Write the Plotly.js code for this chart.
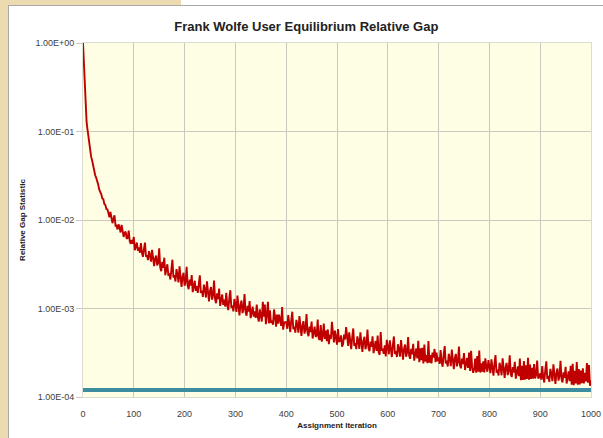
<!DOCTYPE html>
<html>
<head>
<meta charset="utf-8">
<script src="https://cdn.plot.ly/plotly-3.0.1.min.js"></script>
<style>
  html, body { margin: 0; padding: 0; background: #ffffff; overflow: hidden; }
  #frame { position: absolute; left: 0; top: 0; width: 603px; height: 438px; }
  .beige { position: absolute; background: #ecdbb0; }
  .bline { position: absolute; background: #a9a9a9; }
  #chart { position: absolute; left: 0; top: 0; width: 603px; height: 438px; }
</style>
</head>
<body>
<div id="frame">
  <div class="beige" style="left:0;top:0;width:8px;height:438px;"></div>
  <div class="beige" style="left:0;top:0;width:181px;height:5px;"></div>
  <div class="bline" style="left:8px;top:5px;width:595px;height:1px;"></div>
  <div class="bline" style="left:8px;top:5px;width:1px;height:433px;"></div>
</div>
<div id="chart"></div>
<script>
// Assignment iterations
const iterations = [
  0,1,2,3,4,5,6,7,8,10,12,14,16,18,20,22,24,26,28,30,32,34,36,38,40,42,44,46,48,
  50,52,54,56,58,60,62,64,66,68,70,72,74,76,78,80,82,84,86,88,90,92,94,96,98,
  100,102,104,106,108,110,112,114,116,118,120,122,124,126,128,130,132,134,136,138,140,142,144,146,148,
  150,152,154,156,158,160,162,164,166,168,170,172,174,176,178,180,182,184,186,188,190,192,194,196,198,
  200,202,204,206,208,210,212,214,216,218,220,222,224,226,228,230,232,234,236,238,240,242,244,246,248,
  250,252,254,256,258,260,262,264,266,268,270,272,274,276,278,280,282,284,286,288,290,292,294,296,298,
  300,302,304,306,308,310,312,314,316,318,320,322,324,326,328,330,332,334,336,338,340,342,344,346,348,
  350,352,354,356,358,360,362,364,366,368,370,372,374,376,378,380,382,384,386,388,390,392,394,396,398,
  400,402,404,406,408,410,412,414,416,418,420,422,424,426,428,430,432,434,436,438,440,442,444,446,448,
  450,452,454,456,458,460,462,464,466,468,470,472,474,476,478,480,482,484,486,488,490,492,494,496,498,
  500,502,504,506,508,510,512,514,516,518,520,522,524,526,528,530,532,534,536,538,540,542,544,546,548,
  550,552,554,556,558,560,562,564,566,568,570,572,574,576,578,580,582,584,586,588,590,592,594,596,598,
  600,602,604,606,608,610,612,614,616,618,620,622,624,626,628,630,632,634,636,638,640,642,644,646,648,
  650,652,654,656,658,660,662,664,666,668,670,672,674,676,678,680,682,684,686,688,690,692,694,696,698,
  700,702,704,706,708,710,712,714,716,718,720,722,724,726,728,730,732,734,736,738,740,742,744,746,748,
  750,752,754,756,758,760,762,764,766,768,770,772,774,776,778,780,782,784,786,788,790,792,794,796,798,
  800,802,804,806,808,810,812,814,816,818,820,822,824,826,828,830,832,834,836,838,840,842,844,846,848,
  850,852,854,856,858,860,862,864,866,868,870,872,874,876,878,880,882,884,886,888,890,892,894,896,898,
  900,902,904,906,908,910,912,914,916,918,920,922,924,926,928,930,932,934,936,938,940,942,944,946,948,
  950,952,954,956,958,960,962,964,966,968,970,972,974,976,978,980,982,984,986,988,990,992,994,996,998,
  1000
];
// Relative gap statistic
const relativeGap = [
  1.0,0.72,0.48,0.33,0.25,0.19,0.155,0.13,0.115,0.092,0.074,0.063,0.052,0.047,0.040,0.037,0.032,0.030,0.026,0.025,0.022,0.021,0.0195,0.0175,0.0172,0.0152,0.0148,0.0133,0.0132,
  120e-4,107e-4,123e-4,101e-4,92e-4, 103e-4,113e-4,86.5e-4,86.8e-4,78.3e-4, 89.2e-4,81.6e-4,72.3e-4,87.9e-4,71.2e-4, 64.4e-4,71.8e-4,74.1e-4,61.4e-4,63.0e-4, 76.0e-4,57.4e-4,53.8e-4,59.5e-4,53.9e-4,
  64.3e-4,45.6e-4,51.5e-4,55.6e-4,45.0e-4, 49e-4,42.7e-4,54.8e-4,42.6e-4,38.3e-4, 47.3e-4,55.5e-4,38.6e-4,39.9e-4,35.3e-4, 44.4e-4,39.8e-4,33.8e-4,46.1e-4,34.6e-4, 30.2e-4,36.8e-4,39.5e-4,30.6e-4,32.9e-4,
  47.9e-4,29.2e-4,26.4e-4,33.7e-4,28.8e-4, 37.5e-4,23.8e-4,28.5e-4,31.6e-4,24.0e-4, 24.3e-4,21.3e-4,28.8e-4,35.6e-4,22.4e-4, 23.8e-4,20.2e-4,27.8e-4,24.3e-4,19.7e-4, 29.9e-4,20.8e-4,17.5e-4,22.9e-4,25.3e-4,
  18.1e-4,20.1e-4,29.6e-4,18.2e-4,16.5e-4, 21.2e-4,18.2e-4,23.9e-4,15.3e-4,18.4e-4, 20.6e-4,15.8e-4,17.9e-4,15.0e-4,21.2e-4, 23.7e-4,15.0e-4,15.9e-4,13.5e-4,18.6e-4, 16.3e-4,13.3e-4,20.3e-4,14.2e-4,12.0e-4,
  15.8e-4,17.5e-4,12.6e-4,14.1e-4,20.7e-4, 12.7e-4,11.5e-4,14.8e-4,12.8e-4,16.8e-4, 10.7e-4,12.9e-4,14.4e-4,11.0e-4,12.6e-4, 10.5e-4,15.0e-4,10.9e-4,9.6e-4,13.0e-4, 16.1e-4,10.2e-4,10.8e-4,9.27e-4,12.8e-4,
  11.2e-4,9.16e-4,14.0e-4,9.84e-4,8.37e-4, 11.0e-4,12.3e-4,8.86e-4,9.89e-4,14.6e-4, 9.09e-4,8.30e-4,10.7e-4,9.21e-4,12.1e-4, 7.78e-4,9.41e-4,10.5e-4,8.09e-4,9.3e-4, 7.82e-4,11.1e-4,8.1e-4,7.12e-4,9.79e-4,
  7.74e-4,7.13e-4,11.9e-4,8.08e-4,11.1e-4, 6.64e-4,8.47e-4,11.9e-4,6.80e-4,9.56e-4, 6.88e-4,7.27e-4,6.56e-4,9.75e-4,8.19e-4, 6.24e-4,8.51e-4,6.75e-4,8.51e-4,6.96e-4, 6.35e-4,10.4e-4,5.76e-4,6.89e-4,7.03e-4,
  7.0e-4,5.90e-4,8.41e-4,6.15e-4,5.42e-4, 7.39e-4,9.20e-4,5.83e-4,6.23e-4,5.34e-4, 7.43e-4,6.54e-4,5.34e-4,8.19e-4,5.75e-4, 4.90e-4,6.46e-4,7.20e-4,5.20e-4,5.82e-4, 8.63e-4,5.31e-4,4.86e-4,6.26e-4,5.41e-4,
  7.13e-4,4.58e-4,5.55e-4,6.24e-4,4.80e-4, 4.93e-4,7.51e-4,4.59e-4,4.40e-4,6.49e-4, 4.22e-4,4.98e-4,6.76e-4,4.54e-4,5.63e-4, 4.27e-4,5.80e-4,3.95e-4,5.06e-4,4.53e-4, 7.08e-4,5.08e-4,4.14e-4,5.63e-4,4.60e-4,
  3.90e-4,5.84e-4,4.19e-4,4.34e-4,4.97e-4, 3.70e-4,3.96e-4,5.06e-4,4.46e-4,6.17e-4, 4.45e-4,3.77e-4,5.37e-4,3.94e-4,3.48e-4, 4.76e-4,5.95e-4,3.77e-4,4.05e-4,3.47e-4, 4.84e-4,4.27e-4,3.50e-4,5.38e-4,3.79e-4,
  3.24e-4,4.28e-4,4.79e-4,3.47e-4,3.90e-4, 5.80e-4,3.58e-4,3.29e-4,4.24e-4,3.68e-4, 4.86e-4,3.13e-4,3.81e-4,4.29e-4,3.31e-4, 4.93e-4,3.20e-4,3.00e-4,5.41e-4,3.34e-4, 3.51e-4,3.08e-4,3.83e-4,2.88e-4,4.42e-4,
  3.60e-4,3.04e-4,4.36e-4,3.20e-4,2.83e-4, 3.87e-4,4.83e-4,3.06e-4,3.30e-4,2.83e-4, 3.94e-4,3.48e-4,2.86e-4,4.39e-4,3.10e-4, 2.65e-4,3.51e-4,3.92e-4,2.85e-4,3.19e-4, 4.76e-4,2.93e-4,2.70e-4,3.49e-4,3.03e-4,
  4.0e-4,2.58e-4,3.14e-4,3.53e-4,2.73e-4, 4.31e-4,2.48e-4,3.54e-4,2.61e-4,3.60e-4, 2.39e-4,3.91e-4,2.52e-4,2.98e-4,2.41e-4, 4.28e-4,2.44e-4,2.98e-4,2.39e-4,3.18e-4, 2.79e-4,3.49e-4,2.48e-4,3.17e-4,2.54e-4,
  2.80e-4,2.37e-4,3.39e-4,2.48e-4,2.20e-4, 3.01e-4,3.77e-4,2.39e-4,2.57e-4,2.21e-4, 3.08e-4,2.72e-4,2.23e-4,3.43e-4,2.42e-4, 2.07e-4,2.74e-4,3.07e-4,2.22e-4,2.49e-4, 3.71e-4,2.30e-4,2.11e-4,2.72e-4,2.36e-4,
  3.13e-4,2.02e-4,2.46e-4,2.76e-4,2.13e-4, 3.17e-4,1.97e-4,3.33e-4,2.16e-4,1.88e-4, 2.04e-4,2.71e-4,1.88e-4,2.91e-4,1.93e-4, 3.35e-4,1.89e-4,2.40e-4,1.93e-4,2.53e-4, 1.89e-4,2.73e-4,2.16e-4,1.93e-4,2.61e-4,
  2.20e-4,1.86e-4,2.66e-4,1.96e-4,1.74e-4, 2.38e-4,2.97e-4,1.88e-4,2.03e-4,1.75e-4, 2.44e-4,2.15e-4,1.76e-4,2.73e-4,1.92e-4, 1.64e-4,2.17e-4,2.43e-4,1.77e-4,1.99e-4, 2.96e-4,1.83e-4,1.68e-4,2.18e-4,1.89e-4,
  2.50e-4,1.61e-4,1.97e-4,2.22e-4,1.72e-4, 2.72e-4,1.55e-4,2.25e-4,1.56e-4,2.54e-4, 1.57e-4,2.28e-4,1.60e-4,2.78e-4,1.57e-4, 2.33e-4,1.60e-4,2.13e-4,1.61e-4,2.36e-4, 1.62e-4,1.78e-4,2.58e-4,1.62e-4,1.67e-4,
  1.85e-4,1.57e-4,2.24e-4,1.66e-4,1.46e-4, 2.01e-4,2.53e-4,1.60e-4,1.73e-4,1.48e-4, 2.08e-4,1.85e-4,1.51e-4,2.34e-4,1.65e-4, 1.41e-4,1.88e-4,2.10e-4,1.53e-4,1.72e-4, 2.57e-4,1.59e-4,1.46e-4,1.90e-4,1.65e-4,
  2.19e-4,1.42e-4,1.72e-4,1.95e-4,1.51e-4, 2.25e-4,1.38e-4,2.37e-4,1.36e-4,1.97e-4, 1.42e-4,2.48e-4,1.38e-4,2.07e-4,1.39e-4, 1.99e-4,1.43e-4,2.11e-4,1.42e-4,1.88e-4, 1.50e-4,2.42e-4,1.45e-4,2.29e-4,1.34e-4,
  1.55e-4
];
// Convergence target line
const targetX = [0, 1000];
const targetGap = [0.00012, 0.00012];
// Axis ticks
const yTickVals = [1, 0.1, 0.01, 0.001, 0.0001];
const yTickText = ["1.00E+00", "1.00E-01", "1.00E-02", "1.00E-03", "1.00E-04"];
const xTickVals = [0,100,200,300,400,500,600,700,800,900,1000];

const traces = [
  {
    x: targetX, y: targetGap, type: 'scatter', mode: 'lines',
    line: { color: '#3b8d9f', width: 4 }, hoverinfo: 'skip', showlegend: false
  },
  {
    x: iterations, y: relativeGap, type: 'scatter', mode: 'lines',
    line: { color: '#c00000', width: 1.9 }, showlegend: false
  }
];

const tickFont = { family: 'Arial, "Liberation Sans", sans-serif', size: 9, color: '#404040' };

const layout = {
  width: 603, height: 438,
  margin: { l: 83, r: 12, t: 43, b: 41 },
  paper_bgcolor: 'rgba(0,0,0,0)',
  plot_bgcolor: '#fefee4',
  title: {
    text: 'Frank Wolfe User Equilibrium Relative Gap',
    font: { family: 'Arial, "Liberation Sans", sans-serif', size: 13, color: '#222222', weight: 'bold' },
    x: 0.508, xanchor: 'center', y: 0.94, yanchor: 'middle'
  },
  xaxis: {
    range: [0, 1000], tickvals: xTickVals, ticktext: xTickVals.map(String),
    showgrid: true, gridcolor: '#c9c9bd', gridwidth: 1,
    zeroline: false, showline: true, linecolor: '#dcdcd0', mirror: true,
    ticks: 'outside', ticklen: 8, tickcolor: 'rgba(0,0,0,0)',
    tickfont: tickFont,
    title: { text: 'Assignment Iteration', font: { family: 'Arial, sans-serif', size: 8, color: '#222222', weight: 'bold' }, standoff: 4 }
  },
  yaxis: {
    type: 'log', range: [-4, 0], tickvals: yTickVals, ticktext: yTickText,
    showgrid: true, gridcolor: '#c9c9bd', gridwidth: 1,
    zeroline: false, showline: true, linecolor: '#dcdcd0', mirror: true,
    ticks: 'outside', ticklen: 6, tickcolor: '#c9c9bd',
    tickfont: tickFont,
    title: { text: 'Relative Gap Statistic', font: { family: 'Arial, sans-serif', size: 8, color: '#222222', weight: 'bold' }, standoff: 8 }
  }
};

Plotly.newPlot('chart', traces, layout, { displayModeBar: false, staticPlot: true });
</script>
</body>
</html>
